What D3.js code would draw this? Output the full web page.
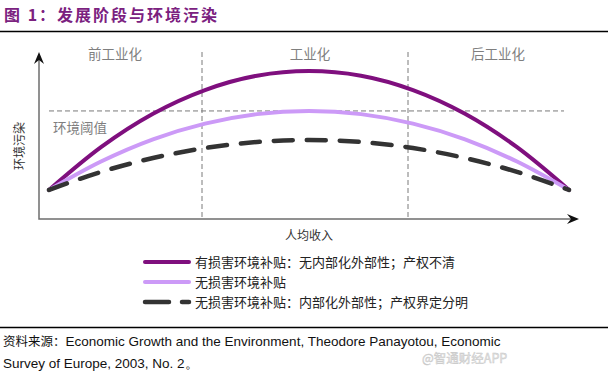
<!DOCTYPE html>
<html lang="zh">
  <head>
    <meta charset="UTF-8" />
    <title>发展阶段与环境污染</title>
    <script src="https://d3js.org/d3.v7.min.js"></script>
    <style>
      body {
        margin: 0;
        background: #ffffff;
      }
      svg {
        display: block;
        font-family: "Noto Sans CJK SC", "Liberation Sans", sans-serif;
      }
      .title {
        font-size: 16px;
        font-weight: 700;
        fill: #7b217f;
        letter-spacing: 2px;
      }
      .stage {
        font-size: 13.5px;
        fill: #7f7f7f;
      }
      .axis-label {
        font-size: 12px;
        fill: #333;
      }
      .legend text {
        font-size: 13px;
        fill: #222;
      }
      .source {
        font-size: 13.5px;
        fill: #111;
        font-family: "Liberation Sans", Arial, sans-serif;
      }
    </style>
  </head>
  <body>
    <svg id="chart" width="608" height="373"></svg>

    <script>
      // 人均收入 (0 = 起点, 10 = 终点) 与 环境污染 (0 = 横轴, 100 = 纵轴顶端)
      const income = [0, 1, 2, 3, 4, 5, 6, 7, 8, 9, 10];
      const harmful = [17.4, 43, 63, 77.2, 85.8, 88.6, 85.8, 77.2, 63, 43, 17.4];
      const noHarm = [17.4, 34.4, 47.7, 57.1, 62.8, 64.7, 62.8, 57.1, 47.7, 34.4, 17.4];
      const internal = [17.4, 28.2, 36.5, 42.5, 46.1, 47.3, 46.1, 42.5, 36.5, 28.2, 17.4];

      const stages = ["前工业化", "工业化", "后工业化"];
      const stageBreaks = [3, 7]; // income values of the two dividers
      const threshold = 64.7;

      const seriesNames = [
        "有损害环境补贴：无内部化外部性；产权不清",
        "无损害环境补贴",
        "无损害环境补贴：内部化外部性；产权界定分明",
      ];

      const svg = d3.select("#chart");

      // plot area: axes at x=39, y=219
      const axisX = 39,
        axisY = 219,
        axisTop = 52,
        axisRight = 579;

      const x = d3.scaleLinear().domain([0, 10]).range([49, 569]);
      const y = d3.scaleLinear().domain([0, 100]).range([axisY, axisTop]);

      // stage breaks map to pixels 202 and 408
      const xStage = d3.scaleLinear().domain([3, 7]).range([202, 408]);

      // title
      svg.append("text").attr("class", "title").attr("x", 4).attr("y", 21).text("图 1：发展阶段与环境污染");
      svg.append("line").attr("x1", 0).attr("x2", 608).attr("y1", 31.5).attr("y2", 31.5).attr("stroke", "#000").attr("stroke-width", 1.3);

      // dividers
      svg
        .selectAll(".divider")
        .data(stageBreaks)
        .join("line")
        .attr("class", "divider")
        .attr("x1", (d) => xStage(d))
        .attr("x2", (d) => xStage(d))
        .attr("y1", axisTop)
        .attr("y2", axisY)
        .attr("stroke", "#7a7a7a")
        .attr("stroke-width", 1)
        .attr("stroke-dasharray", "5,3");

      // threshold line
      svg
        .append("line")
        .attr("x1", 49)
        .attr("x2", 564)
        .attr("y1", y(threshold))
        .attr("y2", y(threshold))
        .attr("stroke", "#7a7a7a")
        .attr("stroke-width", 1)
        .attr("stroke-dasharray", "5,3");

      svg.append("text").attr("class", "stage").attr("x", 53).attr("y", 133).text("环境阈值");

      // stage labels
      const stageCenters = [115, 310, 498];
      svg
        .selectAll(".stage-label")
        .data(stages)
        .join("text")
        .attr("class", "stage")
        .attr("x", (d, i) => stageCenters[i])
        .attr("y", 59)
        .attr("text-anchor", "middle")
        .text((d) => d);

      // axes
      svg
        .append("path")
        .attr("d", `M${axisX},${axisTop + 6}V${axisY}H${axisRight - 6}`)
        .attr("fill", "none")
        .attr("stroke", "#6e6e6e")
        .attr("stroke-width", 1.5);
      // arrow heads
      svg
        .append("path")
        .attr("d", `M${axisX},${axisTop} l-5,12 l5,-4 l5,4 z`)
        .attr("fill", "#111");
      svg
        .append("path")
        .attr("d", `M${axisRight},${axisY} l-12,-5 l4,5 l-4,5 z`)
        .attr("fill", "#111");

      svg
        .append("text")
        .attr("class", "axis-label")
        .attr("transform", "translate(24,146) rotate(-90)")
        .attr("text-anchor", "middle")
        .text("环境污染");
      svg.append("text").attr("class", "axis-label").attr("x", 309).attr("y", 240).attr("text-anchor", "middle").text("人均收入");

      // curves
      const line = d3
        .line()
        .x((d, i) => x(income[i]))
        .y((d) => y(d))
        .curve(d3.curveMonotoneX);

      const styles = [
        {color: "#7f0f7e", width: 4, dash: null},
        {color: "#cc9af7", width: 4, dash: null},
        {color: "#333333", width: 4.5, dash: "19,14"},
      ];
      const series = [harmful, noHarm, internal];

      svg
        .selectAll(".curve")
        .data(series)
        .join("path")
        .attr("class", "curve")
        .attr("d", (d) => line(d))
        .attr("fill", "none")
        .attr("stroke", (d, i) => styles[i].color)
        .attr("stroke-width", (d, i) => styles[i].width)
        .attr("stroke-linecap", "round")
        .attr("stroke-dasharray", (d, i) => styles[i].dash);

      // legend
      const legend = svg.append("g").attr("class", "legend");
      const rows = legend
        .selectAll("g")
        .data(seriesNames)
        .join("g")
        .attr("transform", (d, i) => `translate(0,${262 + i * 20})`);
      rows
        .append("line")
        .attr("x1", 145)
        .attr("x2", 189)
        .attr("stroke", (d, i) => styles[i].color)
        .attr("stroke-width", (d, i) => styles[i].width)
        .attr("stroke-linecap", "round")
        .attr("stroke-dasharray", (d, i) => (styles[i].dash ? "24,13" : null));
      rows
        .append("text")
        .attr("x", 195)
        .attr("y", 4.5)
        .text((d) => d);

      // source
      svg.append("line").attr("x1", 0).attr("x2", 608).attr("y1", 327.5).attr("y2", 327.5).attr("stroke", "#000").attr("stroke-width", 1.3);
      const src = svg.append("text").attr("class", "source").attr("x", 3).attr("y", 346);
      src.append("tspan").style("font-family", "'Noto Sans CJK SC'").style("font-size", "12.5px").text("资料来源：");
      src.append("tspan").text("Economic Growth and the Environment, Theodore Panayotou, Economic");
      svg.append("text").attr("class", "source").attr("x", 3).attr("y", 368).text("Survey of Europe, 2003, No. 2。");

      svg
        .append("text")
        .attr("x", 422)
        .attr("y", 363)
        .attr("font-size", 12.5)
        .attr("fill", "#e2e2e2")
        .attr("stroke", "#c8c8c8")
        .attr("stroke-width", 0.4)
        .text("@智通财经APP");
    </script>
  </body>
</html>
